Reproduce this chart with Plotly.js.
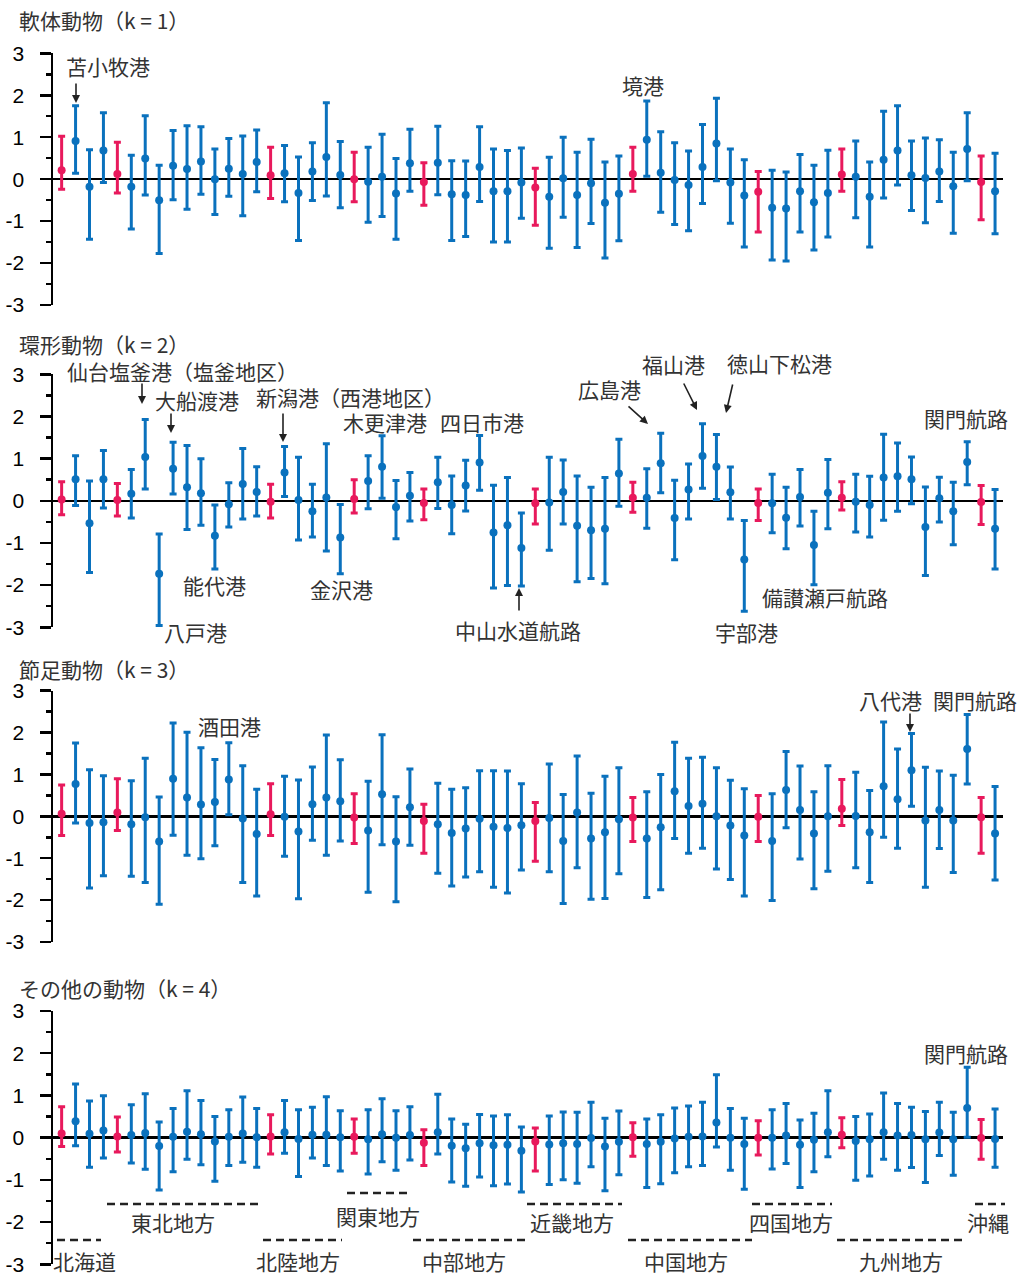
<!DOCTYPE html>
<html><head><meta charset="utf-8">
<script src="https://cdn.plot.ly/plotly-3.0.1.min.js"></script>
<style>html,body{margin:0;padding:0;background:#fff}#c{width:1020px;height:1277px}</style>
</head><body><div id="c"></div>
<script>
// ---- DATA ----
const panelTitles = ['軟体動物（k = 1）','環形動物（k = 2）','節足動物（k = 3）','その他の動物（k = 4）'];
const refIdx = [0,4,15,21,26,34,41,50,56,66]; // reference (red) points
const regionNames = ['北海道','東北地方','北陸地方','関東地方','中部地方','近畿地方','中国地方','四国地方','九州地方','沖縄'];
const yTickVals = [-3,-2,-1,0,1,2,3];
const yTickText = ['-3','-2','-1','0','1','2','3'];

const mid1 = [0.21,0.91,-0.18,0.68,0.12,-0.18,0.49,-0.50,0.32,0.24,0.42,0.00,0.25,0.12,0.41,0.09,0.14,-0.33,0.18,0.53,0.10,0.00,-0.06,0.06,-0.34,0.38,-0.07,0.39,-0.36,-0.38,0.29,-0.29,-0.29,-0.08,-0.20,-0.42,0.02,-0.38,-0.10,-0.56,-0.35,0.12,0.94,0.15,-0.02,-0.14,0.29,0.85,-0.08,-0.39,-0.30,-0.68,-0.70,-0.29,-0.55,-0.33,0.11,0.06,-0.42,0.46,0.68,0.09,0.03,0.18,-0.17,0.72,-0.07,-0.29];
const up1  = [1.02,1.75,0.70,1.58,0.88,0.57,1.51,0.33,1.16,1.27,1.25,0.72,0.97,1.03,1.17,0.76,0.80,0.53,0.87,1.82,0.90,0.64,0.76,1.07,0.49,1.19,0.39,1.26,0.44,0.43,1.25,0.72,0.68,0.74,0.26,0.52,1.00,0.64,0.95,0.41,0.55,0.76,1.86,1.13,0.87,0.67,1.30,1.93,0.72,0.46,0.18,0.21,0.17,0.59,0.33,0.69,0.72,0.91,0.41,1.62,1.75,0.91,0.98,0.94,0.64,1.58,0.55,0.62];
const lo1  = [-0.24,0.14,-1.43,-0.08,-0.33,-1.19,-0.38,-1.77,-0.49,-0.72,-0.36,-0.84,-0.41,-0.87,-0.30,-0.46,-0.54,-1.46,-0.51,-0.40,-0.68,-0.54,-1.03,-0.89,-1.43,-0.29,-0.62,-0.37,-1.46,-1.37,-0.53,-1.50,-1.50,-0.93,-1.10,-1.65,-0.91,-1.63,-1.06,-1.88,-1.47,-0.29,0.07,-0.79,-1.08,-1.23,-0.58,-0.04,-1.05,-1.62,-1.26,-1.93,-1.95,-1.26,-1.69,-1.38,-0.29,-0.92,-1.62,-0.45,-0.14,-0.75,-1.04,-0.53,-1.29,-0.04,-0.97,-1.30];

const mid2 = [0.03,0.51,-0.53,0.51,0.02,0.17,1.04,-1.73,0.76,0.32,0.18,-0.83,-0.08,0.40,0.21,-0.02,0.67,0.02,-0.25,0.08,-0.87,0.04,0.47,0.81,-0.15,0.12,-0.05,0.44,-0.10,0.36,0.91,-0.75,-0.58,-1.12,-0.06,-0.04,0.21,-0.59,-0.70,-0.66,0.65,0.07,0.07,0.89,-0.41,0.27,1.06,0.81,0.20,-1.39,-0.05,-0.06,-0.40,0.09,-1.05,0.19,0.07,-0.02,-0.10,0.55,0.58,0.51,-0.62,0.06,-0.25,0.92,-0.03,-0.66];
const up2  = [0.45,1.07,0.47,1.19,0.41,0.74,1.93,-0.79,1.39,1.31,1.00,-0.10,0.43,1.24,0.81,0.39,1.29,1.03,0.39,1.35,-0.09,0.50,1.07,1.54,0.48,0.67,0.28,1.03,0.59,0.96,1.55,0.37,0.55,-0.29,0.28,1.03,0.97,0.59,0.32,0.55,1.46,0.44,0.76,1.60,0.49,0.87,1.83,1.57,0.80,-0.47,0.28,0.63,0.32,0.74,-0.25,0.98,0.45,0.63,0.58,1.58,1.37,1.04,0.33,0.56,0.44,1.40,0.36,0.27];
const lo2  = [-0.33,-0.11,-1.70,-0.17,-0.36,-0.41,0.28,-2.96,0.16,-0.68,-0.58,-1.62,-0.62,-0.43,-0.36,-0.41,0.10,-0.93,-0.86,-1.19,-1.73,-0.29,-0.19,0.06,-0.90,-0.48,-0.45,-0.18,-0.78,-0.24,0.25,-2.07,-2.01,-2.02,-0.55,-1.17,-0.55,-1.92,-1.84,-1.97,-0.13,-0.27,-0.65,0.19,-1.40,-0.43,0.30,0.03,-0.43,-2.62,-0.47,-0.76,-1.14,-0.60,-1.99,-0.66,-0.22,-0.74,-0.86,-0.46,-0.25,-0.07,-1.77,-0.50,-1.04,0.38,-0.56,-1.62];

const mid3 = [0.06,0.77,-0.16,-0.14,0.09,-0.19,-0.02,-0.60,0.90,0.45,0.28,0.34,0.88,-0.05,-0.42,0.05,-0.01,-0.36,0.29,0.45,0.36,-0.03,-0.34,0.53,-0.60,0.22,-0.11,-0.19,-0.40,-0.29,-0.06,-0.25,-0.28,-0.21,-0.11,-0.04,-0.59,0.09,-0.53,-0.38,-0.07,-0.03,-0.53,-0.26,0.60,0.25,0.30,0.00,-0.22,-0.46,-0.01,-0.59,0.63,0.15,-0.41,0.00,0.18,0.01,-0.38,0.72,0.41,1.10,-0.10,0.15,-0.10,1.61,-0.02,-0.41];
const up3  = [0.75,1.75,1.11,0.97,0.90,0.85,1.39,0.46,2.23,2.01,1.64,1.36,1.76,1.21,0.65,0.78,0.96,0.87,1.18,1.94,1.35,0.54,0.84,1.95,0.47,1.13,0.29,0.79,0.65,0.68,1.09,1.09,1.08,0.78,0.33,1.25,0.52,1.44,0.55,0.96,1.16,0.45,0.59,1.00,1.77,1.39,1.41,1.16,0.86,0.66,0.50,0.54,1.55,1.20,0.59,1.21,0.88,1.05,0.62,2.25,1.61,1.98,1.17,1.08,0.98,2.43,0.45,0.71];
const lo3  = [-0.46,-0.16,-1.71,-1.42,-0.34,-1.43,-1.58,-2.10,-0.45,-0.93,-1.01,-0.70,0.04,-1.58,-1.90,-0.46,-0.95,-1.97,-0.57,-0.93,-0.59,-0.65,-1.81,-0.68,-2.04,-0.69,-0.88,-1.36,-1.66,-1.45,-1.32,-1.69,-1.83,-1.28,-1.07,-1.32,-2.08,-1.23,-1.98,-1.96,-1.37,-0.60,-1.94,-1.75,-0.53,-0.88,-0.76,-1.26,-1.51,-1.90,-0.60,-2.01,-0.27,-1.02,-1.73,-1.31,-0.22,-1.23,-1.58,-0.50,-0.76,0.24,-1.69,-0.77,-1.34,0.77,-0.88,-1.52];

const mid4 = [0.10,0.39,0.09,0.17,0.03,0.06,0.11,-0.20,0.02,0.14,0.08,-0.09,0.02,0.10,0.01,0.03,0.13,-0.03,0.07,0.07,0.01,0.02,-0.04,0.08,0.00,0.06,-0.12,0.13,-0.19,-0.25,-0.13,-0.18,-0.17,-0.31,-0.09,-0.16,-0.13,-0.15,-0.01,-0.21,-0.10,0.01,-0.15,-0.10,-0.02,0.02,0.03,0.36,0.00,-0.15,0.00,0.00,0.05,-0.17,-0.05,0.13,0.07,-0.08,-0.04,0.13,0.05,0.06,-0.04,0.12,-0.04,0.70,-0.01,-0.03];
const up4  = [0.73,1.27,0.87,0.99,0.49,0.78,1.04,0.37,0.69,1.11,0.88,0.50,0.66,0.96,0.69,0.54,0.88,0.66,0.72,0.97,0.64,0.44,0.66,0.92,0.64,0.73,0.19,1.03,0.44,0.32,0.55,0.51,0.54,0.25,0.23,0.51,0.61,0.60,0.84,0.46,0.63,0.35,0.44,0.54,0.70,0.75,0.84,1.49,0.69,0.46,0.40,0.66,0.81,0.42,0.58,1.11,0.47,0.50,0.56,1.06,0.81,0.72,0.62,0.84,0.60,1.67,0.43,0.68];
const lo4  = [-0.21,-0.19,-0.70,-0.48,-0.34,-0.60,-0.75,-1.24,-0.81,-0.51,-0.64,-1.03,-0.66,-0.58,-0.70,-0.39,-0.37,-0.92,-0.48,-0.66,-0.79,-0.37,-0.86,-0.57,-0.77,-0.53,-0.66,-0.39,-1.05,-1.15,-0.93,-1.14,-1.10,-1.29,-0.79,-1.11,-1.00,-1.08,-0.69,-1.26,-0.88,-0.44,-1.18,-1.09,-0.83,-0.69,-0.66,-0.22,-0.77,-1.22,-0.41,-0.74,-0.61,-1.18,-0.81,-0.45,-0.24,-1.01,-0.91,-0.51,-0.77,-0.71,-1.06,-0.42,-0.89,0.01,-0.51,-0.70];

// ---- BUILD ----
const W = 1020, H = 1277;
const BLUE = '#0a71bd', RED = '#e8195c', TXT = '#333333';
const CJK = '"Noto Sans CJK JP", "Noto Sans", sans-serif';
const px = x => x / W, py = y => 1 - y / H;

const panels = [[mid1,up1,lo1],[mid2,up2,lo2],[mid3,up3,lo3],[mid4,up4,lo4]];
// pixel positions of value +3 and -3 for each panel
const yPix = [[53.3,305],[374.3,627.3],[690.7,942],[1011,1264.3]];

const traces = [];
const layout = {
  width: W, height: H, margin: {l:0,r:0,t:0,b:0},
  paper_bgcolor:'#fff', plot_bgcolor:'rgba(0,0,0,0)',
  showlegend:false, annotations:[], shapes:[]
};

panels.forEach((p, k) => {
  const [m,u,l] = p;
  const n = m.length;
  const sub = k === 0 ? '' : String(k+1);
  const groups = {blue:{x:[],y:[],ep:[],em:[]}, red:{x:[],y:[],ep:[],em:[]}};
  for (let i = 0; i < n; i++) {
    const g = refIdx.includes(i) ? groups.red : groups.blue;
    g.x.push(i); g.y.push(m[i]); g.ep.push(u[i]-m[i]); g.em.push(m[i]-l[i]);
  }
  [['blue',BLUE],['red',RED]].forEach(([key,col]) => {
    const g = groups[key];
    traces.push({
      type:'scatter', mode:'markers', x:g.x, y:g.y,
      xaxis:'x'+sub, yaxis:'y'+sub,
      marker:{color:col, size:8},
      error_y:{type:'data', symmetric:false, array:g.ep, arrayminus:g.em,
               color:col, thickness:3, width:3.5},
      hoverinfo:'skip'
    });
  });
  layout['xaxis'+sub] = {
    domain:[px(53), px(1003)], range:[-0.62, 67.57], anchor:'y'+sub,
    visible:false, showgrid:false, zeroline:false, fixedrange:true
  };
  layout['yaxis'+sub] = {
    domain:[py(yPix[k][1]), py(yPix[k][0])], range:[-3,3], anchor:'x'+sub,
    showgrid:false, zeroline:true, zerolinecolor:'#000', zerolinewidth:2.5,
    showline:true, linecolor:'#000', linewidth:2.5,
    ticks:'outside', ticklen:11, tickwidth:2.5, tickcolor:'#000',
    tickvals:yTickVals, ticktext:yTickText, ticklabelstandoff:11,
    minor:{ticks:'outside', ticklen:5, tickwidth:2.5, tickcolor:'#000', dtick:0.5, tick0:0.5, showgrid:false},
    tickfont:{family:'"Liberation Sans", Arial, sans-serif', size:21, color:'#000'},
    fixedrange:true
  };
});

const titleY = [20, 344, 669, 988];
panelTitles.forEach((t,k) => {
  layout.annotations.push({text:t, xref:'paper', yref:'paper', x:px(17), y:py(titleY[k]),
    xanchor:'left', yanchor:'middle', showarrow:false, font:{family:CJK, size:21, color:TXT}});
});

const labels = [
  ['苫小牧港',108,66],['境港',643,85],
  ['仙台塩釜港（塩釜地区）',182,371],['大船渡港',197,400],['新潟港（西港地区）',350,397],
  ['木更津港',385,422],['四日市港',482,422],['広島港',609,389],['福山港',673,364],
  ['徳山下松港',779,363],['関門航路',966,418],['能代港',214,585],['八戸港',195,632],
  ['金沢港',341,589],['中山水道航路',518,630],['宇部港',746,632],['備讃瀬戸航路',825,597],
  ['酒田港',229,726],['八代港',890,700],['関門航路',975,700],
  ['関門航路',966,1053]
];
labels.forEach(([t,x,y]) => layout.annotations.push({text:t, xref:'paper', yref:'paper',
  x:px(x), y:py(y), xanchor:'center', yanchor:'middle', showarrow:false,
  font:{family:CJK, size:21, color:TXT}}));

// arrows: [tailX, tailY, headX, headY]
const arrows = [[76,82,76,103],[142,382,142,404],[171,412,171,433],[283,412,283,442],
  [627,405,648,424],[683,382,697,410],[733,383,726,413],[519,612,519,588],[910,712,910,732]];
arrows.forEach(([tx,ty,hx,hy]) => layout.annotations.push({text:'', xref:'paper', yref:'paper',
  x:px(hx), y:py(hy), ax:tx-hx, ay:ty-hy, showarrow:true, arrowhead:2, arrowsize:1,
  arrowwidth:1.6, arrowcolor:'#222', standoff:0, startstandoff:0}));

// region labels and dashed brackets: [x0, x1, lineY, labelX, labelY]
const regionPos = [[57,101,1240,84,1261],[107,259,1204,173,1222],[263,342,1240,298,1261],
  [347,412,1193,378,1216],[413,525,1240,464,1261],[527,622,1204,572,1222],
  [628,752,1240,686,1261],[752,832,1204,791,1222],[837,967,1240,901,1261],[975,1005,1204,988,1222]];
regionNames.forEach((name,k) => {
  const [x0,x1,ly,lx,lyy] = regionPos[k];
  layout.shapes.push({type:'line', xref:'paper', yref:'paper', x0:px(x0), x1:px(x1), y0:py(ly), y1:py(ly),
    line:{color:'#222', width:2.5, dash:'8px,5px'}});
  layout.annotations.push({text:name, xref:'paper', yref:'paper', x:px(lx), y:py(lyy),
    xanchor:'center', yanchor:'middle', showarrow:false, font:{family:CJK, size:21, color:TXT}});
});

Plotly.newPlot('c', traces, layout, {staticPlot:true, displayModeBar:false});
</script></body></html>
